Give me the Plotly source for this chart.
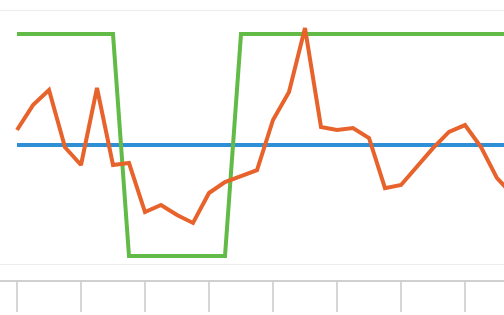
import plotly.graph_objects as go

# Data
idx = list(range(32))
orange = [56.8, 68.0, 74.8, 49.0, 41.0, 75.7, 41.0, 41.9, 19.8, 23.0,
          18.5, 14.9, 28.4, 33.3, 36.0, 38.7, 61.3, 73.9, 102.7, 58.1,
          56.8, 57.7, 53.2, 30.6, 32.0, 40.1, 48.6, 55.9, 59.0, 49.1,
          35.1, 27.5]
green = [100, 100, 100, 100, 100, 100, 100, 0, 0, 0,
         0, 0, 0, 0, 100, 100, 100, 100, 100, 100,
         100, 100, 100, 100, 100, 100, 100, 100, 100, 100,
         100, 100]
blue = [50] * 32
tick_positions = [0, 4, 8, 12, 16, 20, 24, 28]

fig = go.Figure()
fig.add_trace(go.Scatter(x=idx, y=blue, mode="lines",
                         line=dict(color="#2e8fd6", width=4), hoverinfo="skip"))
fig.add_trace(go.Scatter(x=idx, y=green, mode="lines",
                         line=dict(color="#62bb47", width=4), hoverinfo="skip"))
fig.add_trace(go.Scatter(x=idx, y=orange, mode="lines",
                         line=dict(color="#e8632b", width=4), hoverinfo="skip"))

fig.update_layout(
    width=504, height=315,
    margin=dict(l=0, r=0, t=5, b=35),
    paper_bgcolor="white", plot_bgcolor="white",
    showlegend=False,
    xaxis=dict(range=[-1.0625, 30.4375], tickvals=tick_positions,
               ticks="outside", ticklen=30, tickwidth=2, tickcolor="#d6d6d6",
               showline=True, linecolor="#d0d0d0", linewidth=2,
               showticklabels=False, showgrid=False, zeroline=False),
    yaxis=dict(range=[-10.8, 113.1], tickvals=[-4, 110.8],
               showticklabels=False, showgrid=True, gridcolor="#ececec",
               gridwidth=1, zeroline=False, showline=False),
)

fig.write_html("out.html", config={"displayModeBar": False, "staticPlot": True},
               post_script="document.body.style.margin='0';document.body.style.overflow='hidden';")
